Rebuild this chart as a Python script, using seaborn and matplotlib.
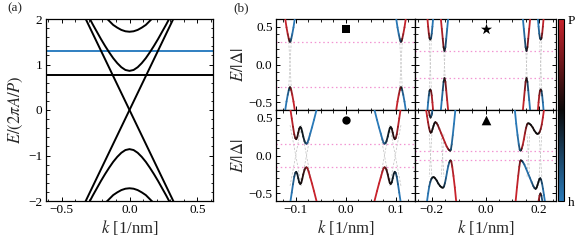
import numpy as np
import matplotlib
matplotlib.use("Agg")
import matplotlib.pyplot as plt
import seaborn as sns
from matplotlib.collections import LineCollection
from matplotlib.colors import LinearSegmentedColormap, Normalize
from matplotlib.cm import ScalarMappable
from matplotlib.ticker import MultipleLocator

# ---------------- panel (a) data ----------------
A_K1 = [-0.30, -0.27, -0.24, -0.21, -0.18, -0.15, -0.12, -0.09, -0.06, -0.03, 0.00,
        0.03, 0.06, 0.09, 0.12, 0.15, 0.18, 0.21, 0.24, 0.27, 0.30]
A_E1 = [2.05, 1.88, 1.72, 1.56, 1.41, 1.27, 1.14, 1.03, 0.94, 0.88, 0.86,
        0.88, 0.94, 1.03, 1.14, 1.27, 1.41, 1.56, 1.72, 1.88, 2.05]
A_K2 = [-0.18, -0.15, -0.12, -0.09, -0.06, -0.03, 0.00, 0.03, 0.06, 0.09, 0.12, 0.15, 0.18]
A_E2 = [2.05, 1.96, 1.87, 1.81, 1.76, 1.73, 1.72, 1.73, 1.76, 1.81, 1.87, 1.96, 2.05]
A_K_LIN = [-0.33, 0.33]
A_E_LIN = [2.05, -2.05]
A_LEVELS = [0.76, 1.30]
A_LEVEL_COLORS = ["black", "#2f7fc1"]

# ---------------- panel (b) data (k<0 side; k>0 side is its particle-hole image) ----
# square
SQ_U_K = [-0.1205, -0.1180, -0.1155, -0.1135, -0.1122, -0.1110, -0.1098, -0.1085, -0.1065, -0.1040, -0.1015]
SQ_U_E = [0.60, 0.49, 0.40, 0.34, 0.31, 0.30, 0.31, 0.34, 0.40, 0.49, 0.60]
SQ_U_C = [1.0, 0.95, 0.85, 0.6, 0.3, 0.0, -0.3, -0.6, -0.85, -0.95, -1.0]
SQ_L_K = [-0.1205, -0.1180, -0.1155, -0.1135, -0.1122, -0.1110, -0.1098, -0.1085, -0.1065, -0.1040, -0.1015]
SQ_L_E = [-0.60, -0.49, -0.40, -0.34, -0.31, -0.30, -0.31, -0.34, -0.40, -0.49, -0.60]
SQ_L_C = [-1.0, -0.95, -0.85, -0.6, -0.3, 0.0, 0.3, 0.6, 0.85, 0.95, 1.0]
SQ_GRAY = [([-0.1135, -0.1085], [0.30, -0.30]), ([-0.1085, -0.1135], [0.30, -0.30])]
SQ_GAP = 0.30

# star
ST_AU_K = [-0.2165, -0.2140, -0.2115, -0.2090, -0.2060, -0.2030, -0.2005, -0.1980, -0.1955]
ST_AU_E = [0.60, 0.50, 0.41, 0.35, 0.33, 0.35, 0.41, 0.50, 0.60]
ST_AU_C = [1.0, 0.9, 0.7, 0.35, 0.0, -0.35, -0.7, -0.9, -1.0]
ST_AL_K = [-0.2165, -0.2140, -0.2115, -0.2090, -0.2060, -0.2030, -0.2005, -0.1980, -0.1955]
ST_AL_E = [-0.60, -0.50, -0.41, -0.35, -0.33, -0.35, -0.41, -0.50, -0.60]
ST_AL_C = [-1.0, -0.9, -0.7, -0.35, 0.0, 0.35, 0.7, 0.9, 1.0]
ST_BU_K = [-0.1665, -0.1630, -0.1595, -0.1565, -0.1530, -0.1495, -0.1465, -0.1430, -0.1395]
ST_BU_E = [0.60, 0.47, 0.34, 0.23, 0.18, 0.23, 0.34, 0.47, 0.60]
ST_BU_C = [1.0, 0.9, 0.75, 0.4, 0.0, -0.4, -0.75, -0.9, -1.0]
ST_BL_K = [-0.1665, -0.1630, -0.1595, -0.1565, -0.1530, -0.1495, -0.1465, -0.1430, -0.1395]
ST_BL_E = [-0.60, -0.47, -0.34, -0.23, -0.18, -0.23, -0.34, -0.47, -0.60]
ST_BL_C = [-1.0, -0.9, -0.75, -0.4, 0.0, 0.4, 0.75, 0.9, 1.0]
ST_GRAY = [([-0.2100, -0.2020], [0.33, -0.33]), ([-0.2020, -0.2100], [0.33, -0.33]),
           ([-0.1555, -0.1505], [0.18, -0.18]), ([-0.1505, -0.1555], [0.18, -0.18])]
ST_GAP = 0.18

# circle
CI_U_K = [-0.1100, -0.1075, -0.1050, -0.1025, -0.1005, -0.0985, -0.0965, -0.0945, -0.0925, -0.0905, -0.0885,
          -0.0865, -0.0845, -0.0820, -0.0800, -0.0780, -0.0760, -0.0735, -0.0705, -0.0670, -0.0630, -0.0580]
CI_U_E = [0.60, 0.49, 0.38, 0.28, 0.23, 0.215, 0.24, 0.30, 0.355, 0.375, 0.36,
          0.31, 0.25, 0.19, 0.162, 0.156, 0.17, 0.22, 0.29, 0.37, 0.47, 0.60]
CI_U_C = [1.0, 0.95, 0.85, 0.65, 0.4, 0.2, 0.15, 0.15, 0.1, 0.0, -0.05,
          -0.1, -0.15, -0.25, -0.35, -0.5, -0.7, -0.85, -0.95, -1.0, -1.0, -1.0]
CI_L_K = [-0.1100, -0.1075, -0.1050, -0.1025, -0.1005, -0.0985, -0.0965, -0.0945, -0.0925, -0.0905, -0.0885,
          -0.0865, -0.0845, -0.0820, -0.0800, -0.0780, -0.0760, -0.0735, -0.0705, -0.0670, -0.0630, -0.0580]
CI_L_E = [-0.60, -0.49, -0.38, -0.28, -0.23, -0.215, -0.24, -0.30, -0.355, -0.375, -0.36,
          -0.31, -0.25, -0.19, -0.162, -0.156, -0.17, -0.22, -0.29, -0.37, -0.47, -0.60]
CI_L_C = [-1.0, -0.95, -0.85, -0.65, -0.4, -0.2, -0.15, -0.15, -0.1, 0.0, 0.05,
          0.1, 0.15, 0.25, 0.35, 0.5, 0.7, 0.85, 0.95, 1.0, 1.0, 1.0]
CI_GRAY = [([-0.1109, -0.0881], [-0.40, 0.40]), ([-0.1109, -0.0881], [0.40, -0.40]),
           ([-0.0894, -0.0666], [-0.40, 0.40]), ([-0.0894, -0.0666], [0.40, -0.40])]
CI_GAP = 0.15

# triangle
TR_U_K = [-0.2215, -0.2180, -0.2145, -0.2110, -0.2075, -0.2045, -0.2010, -0.1975, -0.1940, -0.1905, -0.1870,
          -0.1830, -0.1780, -0.1720, -0.1650, -0.1580, -0.1510, -0.1450, -0.1400, -0.1360, -0.1325, -0.1310,
          -0.1290, -0.1260, -0.1220, -0.1175, -0.1125]
TR_U_E = [0.60, 0.52, 0.44, 0.37, 0.32, 0.30, 0.31, 0.35, 0.39, 0.425, 0.44,
          0.43, 0.40, 0.35, 0.29, 0.23, 0.17, 0.12, 0.09, 0.072, 0.065, 0.066,
          0.08, 0.15, 0.27, 0.42, 0.60]
TR_U_C = [1.0, 0.95, 0.85, 0.65, 0.4, 0.2, 0.1, 0.05, 0.0, 0.0, 0.05,
          0.2, 0.45, 0.7, 0.85, 0.9, 0.9, 0.85, 0.7, 0.45, 0.1, -0.1,
          -0.4, -0.75, -0.9, -1.0, -1.0]
TR_V_K = [-0.2120, -0.2085, -0.2050, -0.2015, -0.1980]
TR_V_E = [0.60, 0.53, 0.50, 0.53, 0.60]
TR_V_C = [0.8, 0.4, 0.0, -0.5, -0.9]
TR_L_K = [-0.2180, -0.2140, -0.2100, -0.2060, -0.2020, -0.1980, -0.1930, -0.1880, -0.1820, -0.1760, -0.1700,
          -0.1640, -0.1590, -0.1550, -0.1510, -0.1470, -0.1430, -0.1390, -0.1350, -0.1320, -0.1300, -0.1275,
          -0.1240, -0.1195, -0.1145, -0.1095]
TR_L_E = [-0.60, -0.50, -0.41, -0.35, -0.31, -0.29, -0.285, -0.30, -0.33, -0.37, -0.40,
          -0.42, -0.425, -0.41, -0.36, -0.29, -0.21, -0.14, -0.09, -0.068, -0.066, -0.08,
          -0.15, -0.27, -0.42, -0.60]
TR_L_C = [-1.0, -0.95, -0.85, -0.6, -0.35, -0.15, 0.0, 0.0, -0.05, -0.1, -0.05,
          0.0, 0.0, -0.2, -0.5, -0.75, -0.9, -0.85, -0.6, -0.2, 0.2, 0.5,
          0.8, 0.95, 1.0, 1.0]
TR_GRAY = [([-0.2100, -0.2000], [0.28, -0.28]), ([-0.2000, -0.2100], [0.28, -0.28]),
           ([-0.1650, -0.1550], [0.28, -0.28]), ([-0.1550, -0.1650], [0.28, -0.28])]
TR_GAP = 0.065

MARKER_E = 0.47

# ---------------- style ----------------
sns.set_theme(style="ticks")
plt.rcParams.update({
    "font.size": 9.5,
    "mathtext.fontset": "stix",
    "axes.linewidth": 0.9,
    "axes.edgecolor": "black",
    "axes.grid": False,
    "xtick.direction": "in", "ytick.direction": "in",
    "xtick.top": True, "ytick.right": True,
    "xtick.major.size": 3.2, "ytick.major.size": 3.2,
    "xtick.minor.size": 1.8, "ytick.minor.size": 1.8,
    "xtick.major.width": 0.7, "ytick.major.width": 0.7,
    "xtick.minor.width": 0.6, "ytick.minor.width": 0.6,
    "xtick.color": "black", "ytick.color": "black",
    "xtick.labelsize": 9.5, "ytick.labelsize": 9.5,
    "xtick.major.pad": 2.5, "ytick.major.pad": 2.5,
})
plt.rcParams["font.family"] = ["Liberation Serif", "DejaVu Serif"]

cmap = LinearSegmentedColormap.from_list("ph", ["#2a7ab9", "#0a0a0a", "#c8232c"])
norm = Normalize(-1, 1)

W, H = 581, 240
fig = plt.figure(figsize=(W / 100, H / 100), dpi=100)

def fr(x0, y0, x1, y1):
    return [x0 / W, 1 - y1 / H, (x1 - x0) / W, (y1 - y0) / H]

# ---------------- panel (a) ----------------
axa = fig.add_axes(fr(46, 19, 213, 201))
for lev, col in zip(A_LEVELS, A_LEVEL_COLORS):
    axa.axhline(lev, color=col, lw=1.4, zorder=2)
for kk, ee in [(A_K1, A_E1), (A_K2, A_E2)]:
    sns.lineplot(x=kk, y=ee, ax=axa, color="black", lw=1.4, sort=False, estimator=None)
    sns.lineplot(x=kk, y=[-e for e in ee], ax=axa, color="black", lw=1.4, sort=False, estimator=None)
sns.lineplot(x=A_K_LIN, y=A_E_LIN, ax=axa, color="black", lw=1.4, sort=False, estimator=None)
sns.lineplot(x=A_K_LIN, y=[-e for e in A_E_LIN], ax=axa, color="black", lw=1.4, sort=False, estimator=None)
axa.set_xlim(-0.614, 0.614)
axa.set_ylim(-2, 2)
axa.xaxis.set_major_locator(MultipleLocator(0.5))
axa.xaxis.set_minor_locator(MultipleLocator(0.1))
axa.yaxis.set_major_locator(MultipleLocator(1))
axa.yaxis.set_minor_locator(MultipleLocator(0.2))
axa.set_xlabel(r"$k$ [1/nm]", labelpad=1)
axa.set_ylabel(r"$E/(2\pi A/P)$", labelpad=2)
fig.text(7 / W, 1 - 8 / H, "(a)", ha="left", va="center", fontsize=9.5)
fig.text(233 / W, 1 - 8 / H, "(b)", ha="left", va="center", fontsize=9.5)

# ---------------- panel (b) ----------------
def add_colored(ax, k, E, c):
    k = np.asarray(k, float); E = np.asarray(E, float); c = np.asarray(c, float)
    pts = np.column_stack([k, E])
    segs = np.stack([pts[:-1], pts[1:]], axis=1)
    lc = LineCollection(segs, cmap=cmap, norm=norm, linewidths=1.3,
                        capstyle="round", joinstyle="round", zorder=3)
    lc.set_array((c[:-1] + c[1:]) / 2)
    ax.add_collection(lc)

def draw_panel(ax, branches, grays, gap, marker, msize, xlim, major, minor):
    for gk, ge in grays:
        for sgn in (1, -1):
            ax.plot([sgn * v for v in gk], [sgn * v for v in ge], color="#c4c4c4",
                    lw=0.55, ls=(0, (3, 2)), zorder=1)
    for lev in (gap, -gap):
        ax.axhline(lev, color="#f294d2", lw=0.9, ls=(0, (1.2, 2.2)), zorder=1)
    for k, E, c in branches:
        add_colored(ax, k, E, c)
        add_colored(ax, [-v for v in k], [-v for v in E], [-v for v in c])
    sns.scatterplot(x=[0.0], y=[MARKER_E], ax=ax, marker=marker, s=msize,
                    color="black", edgecolor="black", linewidth=0, zorder=4, legend=False)
    ax.set_xlim(-xlim, xlim)
    ax.set_ylim(-0.6, 0.6)
    ax.xaxis.set_major_locator(MultipleLocator(major))
    ax.xaxis.set_minor_locator(MultipleLocator(minor))
    ax.yaxis.set_major_locator(MultipleLocator(0.5))
    ax.yaxis.set_minor_locator(MultipleLocator(0.1))

ax_tl = fig.add_axes(fr(276, 19, 415, 110))
ax_tr = fig.add_axes(fr(415, 19, 556, 110))
ax_bl = fig.add_axes(fr(276, 110, 415, 201))
ax_br = fig.add_axes(fr(415, 110, 556, 201))

draw_panel(ax_tl, [(SQ_U_K, SQ_U_E, SQ_U_C), (SQ_L_K, SQ_L_E, SQ_L_C)], SQ_GRAY, SQ_GAP,
           "s", 30, 0.139, 0.1, 0.025)
draw_panel(ax_tr, [(ST_AU_K, ST_AU_E, ST_AU_C), (ST_AL_K, ST_AL_E, ST_AL_C),
                   (ST_BU_K, ST_BU_E, ST_BU_C), (ST_BL_K, ST_BL_E, ST_BL_C)], ST_GRAY, ST_GAP,
           "*", 70, 0.263, 0.2, 0.05)
draw_panel(ax_bl, [(CI_U_K, CI_U_E, CI_U_C), (CI_L_K, CI_L_E, CI_L_C)], CI_GRAY, CI_GAP,
           "o", 36, 0.139, 0.1, 0.025)
draw_panel(ax_br, [(TR_U_K, TR_U_E, TR_U_C), (TR_V_K, TR_V_E, TR_V_C), (TR_L_K, TR_L_E, TR_L_C)],
           TR_GRAY, TR_GAP, "^", 48, 0.263, 0.2, 0.05)

for ax in (ax_tl, ax_tr):
    ax.tick_params(labelbottom=False)
for ax in (ax_tr, ax_br):
    ax.tick_params(labelleft=False)
for ax in (ax_tl, ax_bl):
    ax.set_ylabel(r"$E/|\Delta|$", labelpad=1)
ax_bl.set_xlabel(r"$k$ [1/nm]", labelpad=1)
ax_br.set_xlabel(r"$k$ [1/nm]", labelpad=1)

# colorbar
cax = fig.add_axes(fr(557.7, 19, 564.3, 201))
cb = fig.colorbar(ScalarMappable(norm=norm, cmap=cmap), cax=cax)
cb.outline.set_linewidth(0.8)
cb.set_ticks([-1, 1])
cb.set_ticklabels(["h", "P"])
cax.yaxis.set_minor_locator(MultipleLocator(0.075))
cax.tick_params(which="both", direction="in", right=True, left=False, labelsize=9.5, pad=2.5)
cax.tick_params(which="major", length=0)

fig.savefig("out.png", dpi=100)
